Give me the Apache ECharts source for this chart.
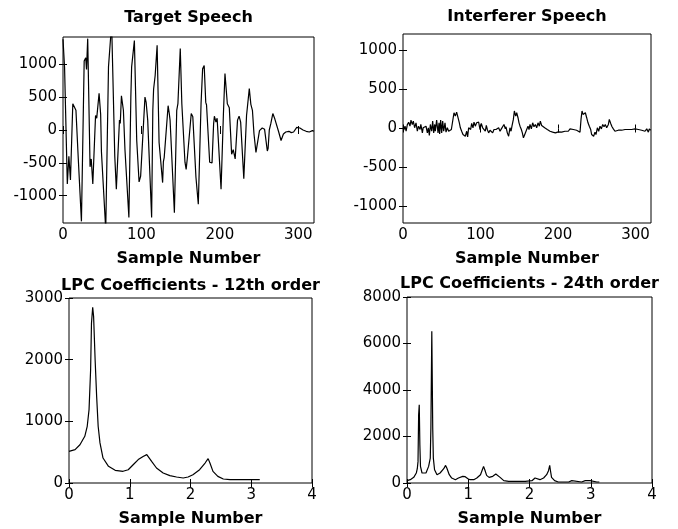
<!DOCTYPE html>
<html>
<head>
<meta charset="utf-8">
<script src="https://cdn.jsdelivr.net/npm/echarts@6/dist/echarts.min.js"></script>
<style>
  html, body { margin: 0; padding: 0; background: #fff; }
  #chart { width: 678px; height: 529px; }
</style>
</head>
<body>
<div id="chart"></div>
<script>
// values: [sample, amplitude]
const targetSpeech = [
  [0,1380],[2,950],[5.5,-820],[7.5,-400],[9.5,-760],[12.5,400],[15,430],[16.5,300],[19.5,-440],[21.5,-460],
  [23.5,-1390],[27,1050],[29,1100],[30,920],[31.5,1390],[34.5,-560],[36,-440],[38,-820],[41.5,220],[43,180],
  [46,560],[48,240],[49,-330],[51,-350],[54.5,-1520],[58,960],[60,980],[62,1620],[66,-400],[68,-900],
  [72,150],[73,100],[74.5,520],[77,300],[79,-300],[84,-1330],[86.5,500],[87.5,960],[89.5,980],[91,1360],
  [94,-160],[97,-790],[99,-700],[104.5,500],[106,420],[108,150],[113,-1330],[114.5,300],[115.5,620],[117.5,830],
  [118.5,850],[120,1290],[122.5,-190],[124,-210],[127,-800],[128,-480],[129,-420],[134,370],[135.5,250],[136.5,150],
  [137.5,-100],[142,-1260],[145,300],[146.5,400],[149.5,1240],[151.5,400],[153.5,380],[155.5,-490],[157,-600],[158.5,-430],
  [160,-400],[163.5,250],[165.5,200],[169.5,-720],[172.5,-1130],[176,400],[178,930],[180,980],[182,420],[183,380],
  [187,-490],[190,-500],[192,90],[193,210],[195,120],[196.5,180],[201.5,-900],[204.5,240],[206.5,860],[208,880],
  [209.5,400],[212,340],[215,-370],[217,-300],[219.5,-440],[222.5,150],[224.5,210],[226.5,120],[230.5,-740],[234,220],
  [235.5,250],[237.5,630],[239.5,390],[241.5,300],[243.5,-60],[246,-340],[248,-320],[250.5,-10],[252.5,20],[254,30],
  [256,0],[257,10],[260.5,-320],[261.5,-280],[263,0],[265,100],[267.5,250],[270,170],[272,150],[275,-30],
  [278,-160],[279.5,-160],[281,-60],[284,-30],[286,-60],[288,-20],[291,-40],[294,-30],[298,40],[302,30],
  [306,0],[310,-20],[314,-30],[318,-10],[320,-20]
];

const interfererSpeech = [
  [0,10],[1,-20],[2.6,30],[4,-35],[5.6,50],[7.3,80],[9,30],[10.3,107],[12,50],[13.3,95],
  [15,10],[16.8,73],[18.5,-35],[20,30],[22,-13],[23,52],[25,-56],[26,9],[28,-13],[29.7,30],
  [31.4,-56],[32.7,9],[34,-90],[35.3,52],[37,-35],[38.3,95],[39.6,-56],[40.9,52],[41.7,-35],[43.4,107],
  [45.2,-56],[46.5,73],[47.3,-69],[48.6,107],[49.9,-56],[51.2,95],[52.5,-35],[54.2,73],[55.5,-47],[57.2,9],
  [58.9,-35],[60.6,-47],[62.4,-13],[64,9],[65.8,202],[67.5,159],[69.2,210],[71,138],[72.7,73],[74,9],
  [75.7,-35],[77.4,-77],[78.7,-56],[80.4,-99],[82.2,-35],[83.4,-108],[84.7,9],[86,30],[87.3,-13],[88.6,65],
  [90.3,9],[91.6,82],[93.3,30],[95,73],[96.3,52],[97.6,82],[99.4,-13],[101,65],[102.8,9],[104.5,30],
  [106.2,-35],[107.5,39],[108.8,-13],[110.5,-56],[112.3,-22],[114,-5],[115.7,-56],[117.4,-13],[118.7,-35],[120,-13],
  [121.7,-22],[123.4,9],[125.2,-35],[126.9,-5],[128.6,-13],[130.3,52],[132,-5],[132.9,22],[134.6,-56],[136.3,-99],
  [138,9],[139.4,-35],[140.6,30],[142.4,116],[143.7,224],[145.4,159],[146.7,202],[148.4,138],[149.7,73],[151,30],
  [152.7,-13],[154,-56],[155.4,-120],[156.6,-90],[157.8,-77],[159.6,-13],[161.3,30],[162.6,-13],[163.9,52],[165.6,-5],
  [167.3,73],[169,22],[170.8,52],[172.5,9],[174.2,73],[175.9,30],[177.2,95],[178.9,39],[181,52],[182.8,9],
  [184.5,30],[186.2,-13],[188,9],[189.7,-35],[191.4,-22],[193.1,-47],[194.8,-26],[196.6,-56],[198.3,-35],[200.4,-43],
  [202.6,-22],[204.7,-47],[206.9,-22],[209,-35],[211.2,-13],[213.3,-35],[215.5,-5],[217.6,-26],[219.8,-13],[222,-35],
  [224,-22],[226.2,-35],[228.4,-47],[229.7,116],[231,224],[232.3,180],[233.5,159],[235.3,202],[237,138],[238.7,73],
  [240.4,30],[242.2,-13],[243.4,-77],[244.7,-56],[246,-99],[247.7,-47],[249,-77],[250.8,9],[252.5,-35],[254.2,30],
  [256,-5],[257.7,52],[259.4,22],[261,52],[262.8,9],[265,52],[266.2,116],[268,65],[269.7,22],[271.4,-5],
  [273.5,-35],[275.7,-47],[277.8,-22],[280,-43],[282.2,-22],[284.3,-35],[286.5,-13],[288.6,-30],[290.8,-13],[293,-5],
  [295,-13],[297.2,5],[299.4,-5],[301.5,9],[303.7,-13],[305.8,-5],[308,-22],[310,-13],[312.3,-35],[314.5,-5],
  [316.6,-47],[317.8,-5],[319.6,-22]
];

const lpc12 = [
  [0,514],[0.1,540],[0.18,620],[0.26,757],[0.3,920],[0.33,1190],[0.356,1840],[0.37,2590],[0.39,2850],[0.405,2700],
  [0.43,2000],[0.455,1405],[0.48,920],[0.51,650],[0.56,405],[0.65,270],[0.76,205],[0.89,190],[0.975,215],[1.06,300],
  [1.14,380],[1.22,430],[1.28,460],[1.3,443],[1.36,350],[1.44,243],[1.55,162],[1.66,119],[1.77,97],[1.88,81],
  [1.96,97],[2.04,135],[2.15,216],[2.24,324],[2.29,395],[2.32,324],[2.37,189],[2.45,108],[2.54,65],[2.65,54],
  [2.81,54],[2.98,54],[3.14,54]
];

const lpc24 = [
  [0,100],[0.054,143],[0.11,243],[0.152,430],[0.168,614],[0.18,930],[0.19,2930],[0.2,3360],[0.21,1640],[0.22,714],
  [0.245,430],[0.27,357],[0.31,430],[0.353,714],[0.38,1070],[0.39,2360],[0.405,6530],[0.42,2360],[0.43,1070],[0.45,570],
  [0.49,357],[0.54,430],[0.6,614],[0.63,757],[0.65,643],[0.69,357],[0.73,214],[0.79,143],[0.84,214],[0.91,286],
  [0.95,271],[0.995,186],[1.03,143],[1.09,143],[1.14,214],[1.2,357],[1.23,570],[1.25,714],[1.27,570],[1.3,328],
  [1.34,243],[1.4,286],[1.45,386],[1.48,400],[1.52,243],[1.58,100],[1.66,71],[1.77,71],[1.93,71],[2.04,100],
  [2.09,214],[2.12,228],[2.17,143],[2.23,214],[2.28,357],[2.31,530],[2.33,757],[2.34,570],[2.36,243],[2.41,100],
  [2.47,43],[2.64,43],[2.69,100],[2.72,43],[2.85,43],[2.91,100],[2.99,100],[3.0,20],[3.1,43],[3.14,43]
];

const speechXTicks = [0, 100, 200, 300];
const speechYTicks = [-1000, -500, 0, 500, 1000];
const lpcXTicks = [0, 1, 2, 3, 4];
const lpc12YTicks = [0, 1000, 2000, 3000];
const lpc24YTicks = [0, 2000, 4000, 6000, 8000];

const FONT = 'DejaVu Sans';

const myChart = echarts.init(document.getElementById('chart'));

// one box per panel, tick marks on all four sides like matlab
const panels = [
  { grid: { left: 63, top: 37, width: 251, height: 186 }, x: [0, 320, speechXTicks], y: [-1415, 1415, speechYTicks], data: targetSpeech, title: 'Target Speech', ty: 18 },
  { grid: { left: 403, top: 34, width: 248, height: 189 }, x: [0, 320, speechXTicks], y: [-1210, 1210, speechYTicks], data: interfererSpeech, title: 'Interferer Speech', ty: 17 },
  { grid: { left: 69, top: 298, width: 243, height: 185 }, x: [0, 4, lpcXTicks], y: [0, 3000, lpc12YTicks], data: lpc12, title: 'LPC Coefficients - 12th order', ty: 286 },
  { grid: { left: 407, top: 297, width: 245, height: 186 }, x: [0, 4, lpcXTicks], y: [0, 8000, lpc24YTicks], data: lpc24, title: 'LPC Coefficients - 24th order', ty: 284 }
];

const xAxis = [];
const yAxis = [];
const series = [];
const graphic = [];
const plain = (v) => String(v);

panels.forEach((p, i) => {
  const tick = (vals) => ({ show: true, inside: true, length: 4, customValues: vals, lineStyle: { color: '#000', width: 1 } });
  xAxis.push({
    type: 'value', gridIndex: i, position: 'bottom', min: p.x[0], max: p.x[1],
    axisLine: { show: false }, splitLine: { show: false },
    axisTick: tick(p.x[2]),
    axisLabel: { customValues: p.x[2], formatter: plain, color: '#000', fontSize: 15, fontFamily: FONT, margin: 5 },
    name: 'Sample Number', nameLocation: 'middle', nameGap: 28,
    nameTextStyle: { color: '#000', fontSize: 16, fontWeight: 'bold', fontFamily: FONT }
  });
  xAxis.push({
    type: 'value', gridIndex: i, position: 'top', min: p.x[0], max: p.x[1],
    axisLine: { show: false }, splitLine: { show: false },
    axisTick: tick(p.x[2]), axisLabel: { show: false }
  });
  yAxis.push({
    type: 'value', gridIndex: i, position: 'left', min: p.y[0], max: p.y[1],
    axisLine: { show: false }, splitLine: { show: false },
    axisTick: tick(p.y[2]),
    axisLabel: { customValues: p.y[2], formatter: plain, color: '#000', fontSize: 15, fontFamily: FONT, margin: 6 }
  });
  yAxis.push({
    type: 'value', gridIndex: i, position: 'right', min: p.y[0], max: p.y[1],
    axisLine: { show: false }, splitLine: { show: false },
    axisTick: tick(p.y[2]), axisLabel: { show: false }
  });
  series.push({
    type: 'line', xAxisIndex: i * 2, yAxisIndex: i * 2, data: p.data,
    showSymbol: false, symbol: 'none', clip: true,
    lineStyle: { color: '#000', width: 1.2 }
  });
  graphic.push({
    type: 'text', x: p.grid.left + p.grid.width / 2, y: p.ty,
    style: { text: p.title, align: 'center', verticalAlign: 'middle', fill: '#000', font: 'bold 16px "' + FONT + '"' }
  });
});

const option = {
  animation: false,
  backgroundColor: '#fff',
  grid: panels.map(p => Object.assign({ show: true, borderColor: '#000', borderWidth: 1, backgroundColor: 'transparent' }, p.grid)),
  xAxis: xAxis,
  yAxis: yAxis,
  series: series,
  graphic: graphic
};

myChart.setOption(option);
window.addEventListener('resize', () => {
  myChart?.resize();
});
</script>
</body>
</html>
